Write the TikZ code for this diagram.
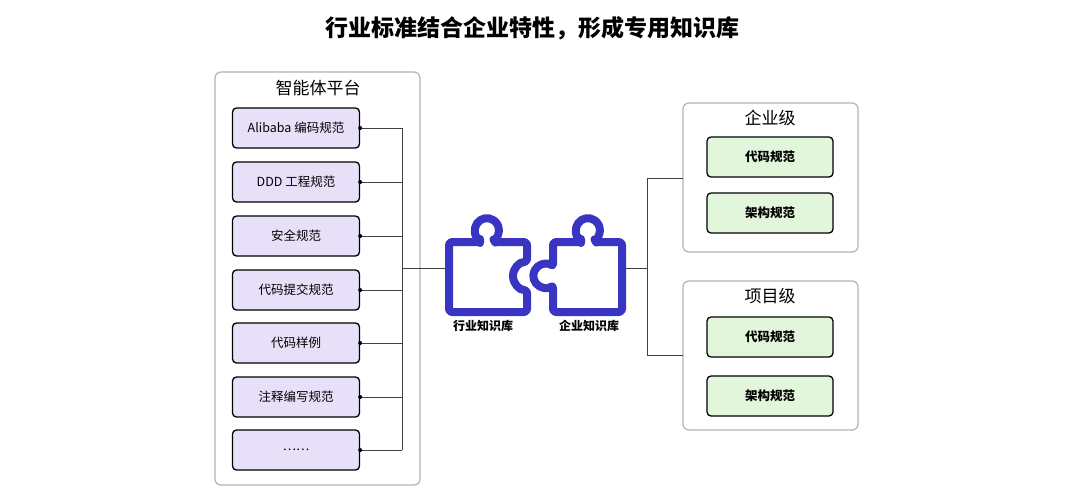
\documentclass[tikz,border=0pt]{standalone}
\usepackage{fontspec}
\setmainfont{Noto Sans CJK SC}
\begin{document}
\begin{tikzpicture}[x=1pt,y=1pt,
 outer/.style={draw=gray!60,line width=1.2pt,rounded corners=6pt},
 item/.style={draw=black,line width=1.3pt,rounded corners=4pt,minimum width=127pt,minimum height=40pt,font=\fontsize{12.5}{14}\selectfont,inner sep=0pt},
 pitem/.style={item,fill=lav},
 gitem/.style={item,fill=grn,minimum width=126pt,font=\fontsize{12.5}{14}\selectfont\bfseries},
 conn/.style={draw=black!75,line width=0.8pt},
 dot/.style={circle,fill=black,inner sep=0pt,minimum size=4pt},
 piece/.style={draw=puz,line width=8pt,line join=round,rounded corners=3pt},
 ttl/.style={font=\fontsize{17}{20}\selectfont}]
\definecolor{puz}{HTML}{3A34C2}
\definecolor{lav}{HTML}{E8E0F8}
\definecolor{grn}{HTML}{E2F6DC}
\useasboundingbox (0,0) rectangle (1080,-496);
\node[font=\fontsize{23}{26}\selectfont\bfseries] (title) at (532,-28) {行业标准结合企业特性，形成专用知识库};
% left
\draw[outer] (215,-72) rectangle (420,-485);
\node[ttl] (lt) at (318,-88) {智能体平台};
\foreach \n/\y/\t in {a/128/Alibaba 编码规范,b/182/DDD 工程规范,c/236/安全规范,d/290/代码提交规范,e/343/代码样例,f/397/注释编写规范,g/450/……}{
  \node[pitem] (\n) at (296,-\y) {\t};
  \node[dot] (d\n) at (\n.east) {};
  \coordinate (j\n) at (402,-\y);
  \draw[conn] (d\n) -- (j\n);
}
\draw[conn] (ja) -- (jg);
\coordinate (jl) at (402,-268);
\coordinate (pl) at (445,-268);
\draw[conn] (jl) -- (pl);
% puzzles
\draw[piece] (449,-242) -- (480,-242) -- (480,-240) arc[start angle=235,end angle=-55,radius=12] -- (495,-242) -- (527,-242) -- (527,-262) arc[start angle=90,end angle=270,radius=14] -- (527,-312) -- (449,-312) -- cycle;
\draw[piece] (553,-242) -- (581,-242) -- (581,-240) arc[start angle=235,end angle=-55,radius=12] -- (596,-242) -- (622,-242) -- (622,-312) -- (553,-312) -- (553,-285) arc[start angle=-50,end angle=-310,radius=12] -- cycle;
\node[font=\fontsize{12}{14}\selectfont\bfseries] (l1) at (483,-326) {行业知识库};
\node[font=\fontsize{12}{14}\selectfont\bfseries] (l2) at (589,-326) {企业知识库};
% right
\coordinate (pr) at (626,-268);
\coordinate (jr) at (647,-268);
\draw[conn] (pr) -- (jr);
\coordinate (jt) at (647,-178);
\coordinate (jb) at (647,-355);
\draw[conn] (jt) -- (jb);
\draw[outer] (683,-103) rectangle (858,-252);
\node[ttl] (t1) at (770,-118) {企业级};
\node[gitem] (r1) at (770,-157) {代码规范};
\node[gitem] (r2) at (770,-213) {架构规范};
\draw[outer] (683,-281) rectangle (858,-430);
\node[ttl] (t2) at (770,-296) {项目级};
\node[gitem] (r3) at (770,-337) {代码规范};
\node[gitem] (r4) at (770,-396) {架构规范};
\coordinate (e1) at (683,-178);
\coordinate (e2) at (683,-355);
\draw[conn] (jt) -- (e1);
\draw[conn] (jb) -- (e2);
\end{tikzpicture}
\end{document}
